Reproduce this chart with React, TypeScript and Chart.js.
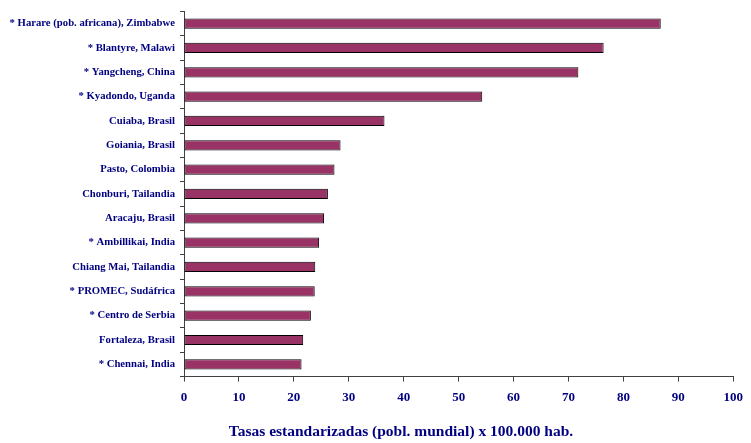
import { useEffect, useRef } from "react";
import { Chart, registerables } from "chart.js";

Chart.register(...registerables);

const categories: string[] = [
  "* Harare (pob. africana), Zimbabwe",
  "* Blantyre, Malawi",
  "* Yangcheng, China",
  "* Kyadondo, Uganda",
  "Cuiaba, Brasil",
  "Goiania, Brasil",
  "Pasto, Colombia",
  "Chonburi, Tailandia",
  "Aracaju, Brasil",
  "* Ambillikai, India",
  "Chiang Mai, Tailandia",
  "* PROMEC, Sudáfrica",
  "* Centro de Serbia",
  "Fortaleza, Brasil",
  "* Chennai, India",
];

const rates: number[] = [
  86.8, 76.4, 71.8, 54.3, 36.5, 28.5, 27.4, 26.2, 25.5, 24.6, 23.9, 23.8, 23.1, 21.7, 21.4,
];

const xMin = 0;
const xMax = 100;
const xStep = 10;

const axisTitle = "Tasas estandarizadas (pobl. mundial) x 100.000 hab.";

const NAVY = "#000080";
const FONT = "'Liberation Serif', 'Times New Roman', serif";

const bottomTitlePlugin = {
  id: "bottomTitle",
  afterDraw(chart: any) {
    const { ctx } = chart;
    ctx.save();
    ctx.font = `bold 15.5px ${FONT}`;
    ctx.fillStyle = NAVY;
    ctx.textAlign = "center";
    ctx.textBaseline = "middle";
    ctx.fillText(axisTitle, 401, 432);
    ctx.restore();
  },
};

export default function App() {
  const ref = useRef<HTMLCanvasElement | null>(null);

  useEffect(() => {
    if (!ref.current) return;
    const chart = new Chart(ref.current, {
      type: "bar",
      data: {
        labels: categories,
        datasets: [
          {
            data: rates,
            backgroundColor: "#993366",
            borderColor: "#000000",
            borderWidth: 1,
            borderSkipped: false,
            barPercentage: 0.42,
            categoryPercentage: 1,
          },
        ],
      },
      plugins: [bottomTitlePlugin],
      options: {
        indexAxis: "y",
        responsive: false,
        animation: false,
        layout: { padding: { left: 0, right: 11.7, top: 6, bottom: 0 } },
        plugins: {
          legend: { display: false },
          tooltip: { enabled: false },
          title: { display: false },
        },
        scales: {
          x: {
            type: "linear",
            min: xMin,
            max: xMax,
            ticks: {
              stepSize: xStep,
              color: NAVY,
              font: { family: FONT, size: 13, weight: "bold" },
              padding: 8,
              maxRotation: 0,
            },
            grid: {
              display: true,
              drawOnChartArea: false,
              drawTicks: true,
              tickLength: 5,
              color: "#404040",
            },
            border: { display: true, color: "#404040", width: 1 },
            afterFit: (scale: any) => {
              scale.height = 66.5;
            },
          },
          y: {
            type: "category",
            ticks: {
              color: NAVY,
              font: { family: FONT, size: 10.7, weight: "bold" },
              padding: 5,
              autoSkip: false,
            },
            grid: {
              display: true,
              offset: true,
              drawOnChartArea: false,
              drawTicks: true,
              tickLength: 4,
              color: "#404040",
            },
            border: { display: true, color: "#404040", width: 1 },
            afterFit: (scale: any) => {
              scale.width = 184;
            },
          },
        },
      },
    });
    return () => chart.destroy();
  }, []);

  return (
    <div style={{ position: "absolute", left: 0, top: 0, width: 751, height: 443, background: "#fff" }}>
      <canvas ref={ref} width={751} height={443} />
    </div>
  );
}
